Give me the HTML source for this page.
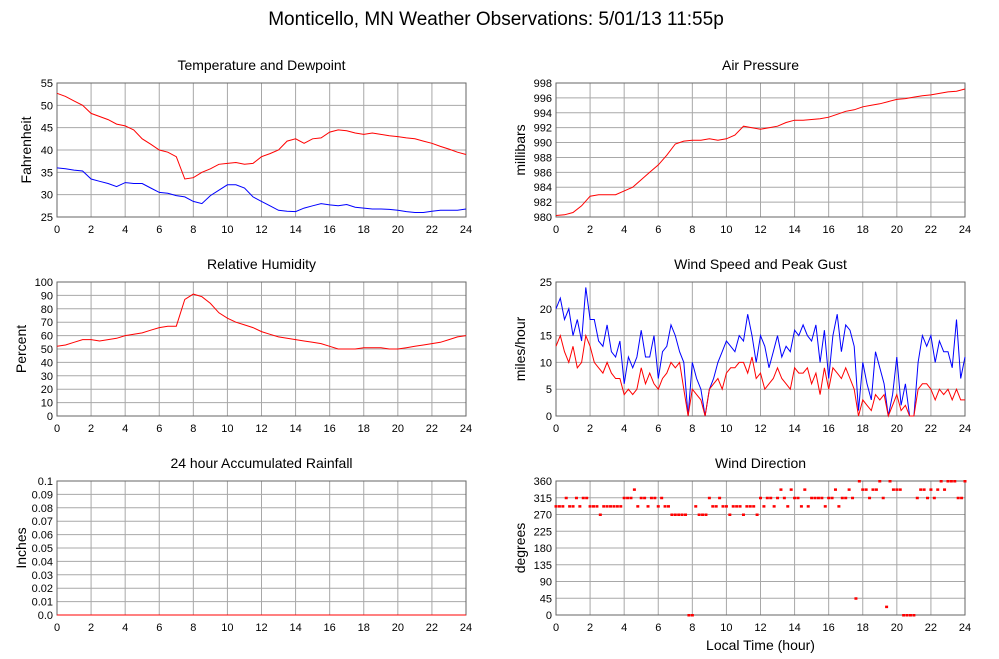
<!DOCTYPE html>
<html><head><meta charset="utf-8">
<style>
html,body{margin:0;padding:0;background:#fff;}
svg{display:block;font-family:"Liberation Sans",sans-serif;}
</style></head>
<body>
<svg id="c" width="999" height="659" viewBox="0 0 999 659">
<text x="496" y="25" text-anchor="middle" font-size="19">Monticello, MN Weather Observations: 5/01/13 11:55p</text>
</svg>
<script>
// ---- data ----
const hours = [0,2,4,6,8,10,12,14,16,18,20,22,24];
const halfHourT = Array.from({length:49},(_, i)=>i*0.5);
const tempF = [52.7,52,51,50,48.2,47.5,46.8,45.8,45.4,44.5,42.5,41.3,40,39.5,38.5,33.5,33.8,35,35.8,36.8,37,37.2,36.8,37,38.5,39.2,40,42,42.5,41.5,42.5,42.7,44,44.5,44.3,43.8,43.5,43.8,43.5,43.2,43,42.7,42.5,42,41.5,40.8,40.2,39.5,39];
const dewF = [36,35.8,35.5,35.3,33.5,33,32.5,31.8,32.7,32.5,32.5,31.5,30.5,30.3,29.8,29.5,28.5,28,29.8,31,32.2,32.2,31.5,29.5,28.5,27.5,26.5,26.3,26.2,27,27.5,28,27.7,27.5,27.8,27.2,27,26.8,26.8,26.7,26.5,26.2,26,26,26.3,26.5,26.5,26.5,26.8];
const pressureMb = [980.2,980.3,980.6,981.5,982.8,983,983,983,983.5,984,985,986,987,988.3,989.8,990.2,990.3,990.3,990.5,990.3,990.5,991,992.2,992,991.8,992,992.2,992.7,993,993,993.1,993.2,993.4,993.8,994.2,994.4,994.8,995,995.2,995.5,995.8,995.9,996.1,996.3,996.4,996.6,996.8,996.9,997.2];
const humidity = [52,53,55,57,57,56,57,58,60,61,62,64,66,67,67,87,91,89,84,77,73,70,68,66,63,61,59,58,57,56,55,54,52,50,50,50,51,51,51,50,50,51,52,53,54,55,57,59,60];
const quarterT = Array.from({length:97},(_, i)=>i*0.25);
const gustMph = [20,22,18,20,15,18,14,24,18,18,14,13,17,12,11,14,6,11,9,11,16,11,11,15,7,12,13,17,15,12,10,0,10,7,5,0,5,7,10,12,14,13,12,15,14,19,15,10,15,13,9,12,15,11,13,12,16,15,17,15,14,17,10,16,7,15,19,12,17,16,13,1,10,6,3,12,9,6,0,4,11,2,6,0,0,10,15,13,15,10,14,12,12,9,18,7,11];
const speedMph = [13,15,12,10,13,9,10,15,13,10,9,8,10,8,7,7,4,5,4,5,9,6,8,6,5,7,8,10,9,10,5,0,5,4,3,0,5,6,7,5,8,9,9,10,10,8,11,7,8,5,6,7,9,7,6,5,9,8,8,9,6,8,4,9,5,9,8,7,9,7,5,0,3,2,1,4,3,4,0,2,4,1,2,0,0,5,6,6,5,3,5,4,5,3,5,3,3];
const rainT = [0,24];
const rainIn = [0,0];
const dirT = Array.from({length:121},(_, i)=>i*0.2);
const dirDeg = [292.5,292.5,292.5,315,292.5,292.5,315,292.5,315,315,
292.5,292.5,292.5,270,292.5,292.5,292.5,292.5,292.5,292.5,
315,315,315,337.5,292.5,315,315,292.5,315,315,
292.5,315,292.5,292.5,270,270,270,270,270,0,
0,292.5,270,270,270,315,292.5,292.5,315,292.5,
292.5,270,292.5,292.5,292.5,270,292.5,292.5,292.5,270,
315,292.5,315,315,292.5,315,337.5,315,292.5,337.5,
315,315,292.5,337.5,292.5,315,315,315,315,292.5,
315,315,337.5,292.5,315,315,337.5,315,45,360,
337.5,337.5,315,337.5,337.5,360,315,22.5,360,337.5,
337.5,337.5,0,0,0,0,315,337.5,337.5,315,
337.5,315,337.5,360,337.5,360,360,360,315,315,360];

// ---- drawing ----
const svg=document.getElementById('c');
const NS='http://www.w3.org/2000/svg';
function mk(tag,parent){const e=document.createElementNS(NS,tag);parent.appendChild(e);return e;}

function panel(o){
  const g=mk('g',svg);
  
  
  const L=o.x0,R=o.x1,T=o.y0,B=o.y1;
  const sx=v=>L+(v-0)/24*(R-L);
  const sy=v=>B-(v-o.min)/(o.max-o.min)*(B-T);
  const t=mk('text',g);t.setAttribute('x',(L+R)/2);t.setAttribute('y',T-13);
  t.setAttribute('text-anchor','middle');t.setAttribute('font-size','14');t.textContent=o.title;
  
  
  const yl=mk('text',g);yl.setAttribute('transform',`translate(${L-31+(o.ylOff||0)},${(T+B)/2}) rotate(-90)`);
  yl.setAttribute('text-anchor','middle');yl.setAttribute('font-size','14');yl.textContent=o.ylabel;
  
  
  o.yticks.forEach((v,i)=>{
    const y=sy(v);
    const ln=mk('line',g);ln.setAttribute('x1',L);ln.setAttribute('x2',R);ln.setAttribute('y1',y);ln.setAttribute('y2',y);
    ln.setAttribute('stroke','#a8a8a8');ln.setAttribute('stroke-width','1');
    
    
    const tx=mk('text',g);tx.setAttribute('x',L-4);tx.setAttribute('y',y+4);tx.setAttribute('text-anchor','end');
    tx.setAttribute('font-size','11');tx.textContent=o.ylabels[i];
    
    
  });
  hours.forEach(h=>{
    const x=sx(h);
    const ln=mk('line',g);ln.setAttribute('x1',x);ln.setAttribute('x2',x);ln.setAttribute('y1',T);ln.setAttribute('y2',B);
    ln.setAttribute('stroke','#a8a8a8');ln.setAttribute('stroke-width','1');
    
    
    const tx=mk('text',g);tx.setAttribute('x',x);tx.setAttribute('y',B+16);tx.setAttribute('text-anchor','middle');
    tx.setAttribute('font-size','11');tx.textContent=h;
    
    
  });
  const fr=mk('rect',g);fr.setAttribute('x',L);fr.setAttribute('y',T);fr.setAttribute('width',R-L);fr.setAttribute('height',B-T);
  fr.setAttribute('fill','none');fr.setAttribute('stroke','#666');
  
  
  (o.series||[]).forEach(s=>{
    const p=mk('polyline',g);
    p.setAttribute('points',s.t.map((tt,i)=>sx(tt).toFixed(1)+','+sy(s.v[i]).toFixed(1)).join(' '));
    p.setAttribute('fill','none');p.setAttribute('stroke',s.color);p.setAttribute('stroke-width','1');
    
    
  });
  if(o.points){
    o.points.t.forEach((tt,i)=>{
      const r=mk('rect',g);r.setAttribute('x',sx(tt)-1.5);r.setAttribute('y',sy(o.points.v[i])-1);
      r.setAttribute('width',3);r.setAttribute('height',2.5);r.setAttribute('fill','#f00');
      
      
    });
  }
  if(o.xlabel){
    const xl=mk('text',g);xl.setAttribute('x',(L+R)/2);xl.setAttribute('y',B+35);xl.setAttribute('text-anchor','middle');
    xl.setAttribute('font-size','14');xl.textContent=o.xlabel;
    
    
  }
}
const rng=(a,b,s)=>{const r=[];for(let v=a;v<=b+1e-9;v+=s)r.push(+v.toFixed(4));return r;};
let yt;
yt=rng(25,55,5);
panel({name:'temperature-chart',title:'Temperature and Dewpoint',ylabel:'Fahrenheit',ylOff:5,x0:57,x1:466,y0:83,y1:217,min:25,max:55,yticks:yt,ylabels:yt.map(String),
 series:[{t:halfHourT,v:tempF,color:'#f00',name:'temperature-line'},{t:halfHourT,v:dewF,color:'#00f',name:'dewpoint-line'}]});
yt=rng(980,998,2);
panel({name:'pressure-chart',title:'Air Pressure',ylabel:'millibars',x0:556,x1:965,y0:83,y1:217,min:980,max:998,yticks:yt,ylabels:yt.map(String),
 series:[{t:halfHourT,v:pressureMb,color:'#f00',name:'pressure-line'}]});
yt=rng(0,100,10);
panel({name:'humidity-chart',title:'Relative Humidity',ylabel:'Percent',x0:57,x1:466,y0:282,y1:416,min:0,max:100,yticks:yt,ylabels:yt.map(String),
 series:[{t:halfHourT,v:humidity,color:'#f00',name:'humidity-line'}]});
yt=rng(0,25,5);
panel({name:'wind-speed-chart',title:'Wind Speed and Peak Gust',ylabel:'miles/hour',x0:556,x1:965,y0:282,y1:416,min:0,max:25,yticks:yt,ylabels:yt.map(String),
 series:[{t:quarterT,v:gustMph,color:'#00f',name:'gust-line'},{t:quarterT,v:speedMph,color:'#f00',name:'speed-line'}]});
yt=rng(0,0.1,0.01);
panel({name:'rainfall-chart',title:'24 hour Accumulated Rainfall',ylabel:'Inches',x0:57,x1:466,y0:481,y1:615,min:0,max:0.1,yticks:yt,ylabels:yt.map(v=>v===0?'0.0':String(v)),
 series:[{t:rainT,v:rainIn,color:'#f00',name:'rainfall-line'}]});
yt=rng(0,360,45);
panel({name:'wind-direction-chart',title:'Wind Direction',ylabel:'degrees',x0:556,x1:965,y0:481,y1:615,min:0,max:360,yticks:yt,ylabels:yt.map(String),
 points:{t:dirT,v:dirDeg},xlabel:'Local Time (hour)'});
</script>
</body></html>
